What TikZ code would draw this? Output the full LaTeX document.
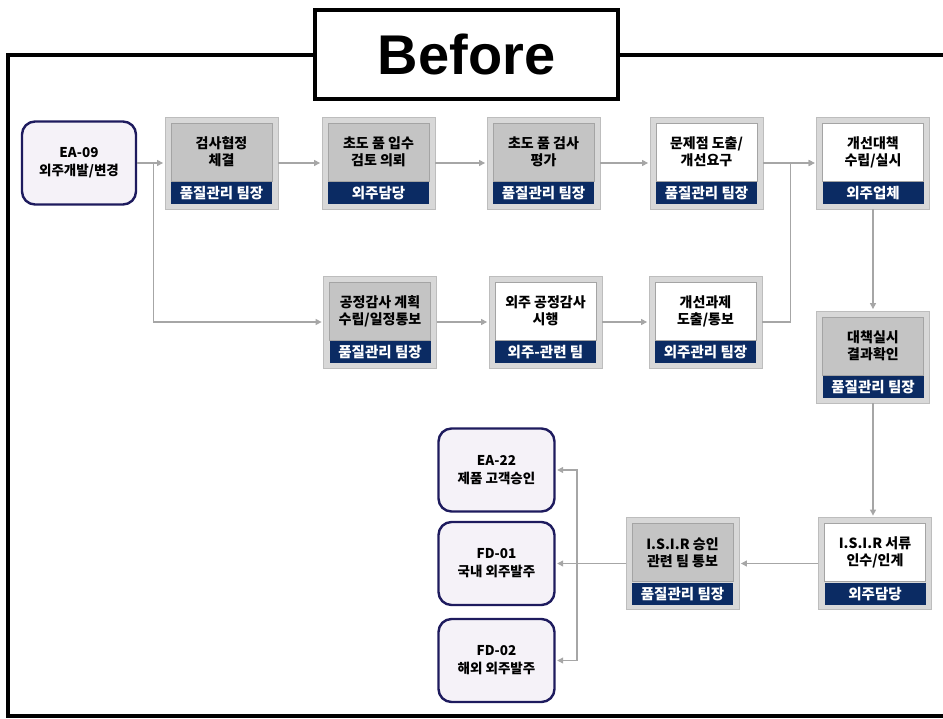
\documentclass[tikz,border=0pt]{standalone}
\usepackage{fontspec}
\setmainfont{Liberation Sans}
\newfontfamily\kr{Noto Sans CJK KR}
\usetikzlibrary{arrows.meta,calc}
\definecolor{navy}{HTML}{0B2B63}
\definecolor{frameg}{HTML}{D8D8D8}
\definecolor{frameb}{HTML}{BDBDBD}
\definecolor{innerg}{HTML}{C4C4C4}
\definecolor{innerb}{HTML}{A4A4A4}
\definecolor{lav}{HTML}{F5F2F8}
\definecolor{rbord}{HTML}{1E1B5E}
\definecolor{arrg}{HTML}{A6A6A6}
\tikzset{
  procouter/.style={draw=frameb, fill=frameg, line width=0.8pt, minimum width=113pt, minimum height=92pt, inner sep=0pt},
  procinner/.style={draw=innerb, line width=0.7pt, minimum width=101pt, minimum height=58pt, inner sep=0pt, align=center, font=\kr\bfseries\fontsize{14}{17}\selectfont},
  proclabel/.style={fill=navy, minimum width=101pt, minimum height=22pt, inner sep=0pt, text=white, font=\kr\bfseries\fontsize{14.5}{15}\selectfont},
  refbox/.style={draw=rbord, fill=lav, line width=2.4pt, rounded corners=13pt, minimum width=114pt, minimum height=83pt, align=center, font=\kr\bfseries\fontsize{13.5}{18}\selectfont},
  conn/.style={draw=arrg, line width=1.1pt, -{Triangle[length=6pt,width=6pt]}, shorten >=1.5pt},
}
\newcommand\proc[6]{%
  \node[procouter] (#1) at (#2,#3) {};
  \node[procinner, fill=#6, anchor=north] (#1-t) at ([yshift=-6pt]#1.north) {#4};
  \node[proclabel, anchor=south] (#1-l) at ([yshift=5pt]#1.south) {#5};
}
\begin{document}
\begin{tikzpicture}[x=1pt,y=-1pt]
\useasboundingbox (0,0) rectangle (943,719);
% frame
\draw[line width=4pt] (945,55) -- (8,55) -- (8,716) -- (945,716);
\node[draw, line width=4pt, fill=white, minimum width=303pt, minimum height=89pt, inner sep=0pt,
  font=\bfseries\fontsize{56}{60}\selectfont] (title) at (466.5,54.5) {Before};
% reference boxes
\node[refbox] (ea09) at (79,163) {EA-09\\외주개발/변경};
\node[refbox, minimum width=116pt] (ea22) at (496.5,470) {EA-22\\제품 고객승인};
\node[refbox, minimum width=116pt] (fd01) at (496.5,563.5) {FD-01\\국내 외주발주};
\node[refbox, minimum width=116pt] (fd02) at (496.5,660.5) {FD-02\\해외 외주발주};
% process boxes
\proc{b1}{221.5}{163}{검사협정\\체결}{품질관리 팀장}{innerg}
\proc{b2}{378.5}{163}{초도 품 입수\\검토 의뢰}{외주담당}{innerg}
\proc{b3}{543.5}{163}{초도 품 검사\\평가}{품질관리 팀장}{innerg}
\proc{b4}{706.5}{163}{문제점 도출/\\개선요구}{품질관리 팀장}{white}
\proc{b5}{873}{163}{개선대책\\수립/실시}{외주업체}{white}
\proc{c1}{380}{322}{공정감사 계획\\수립/일정통보}{품질관리 팀장}{innerg}
\proc{c2}{545.5}{322}{외주 공정감사\\시행}{외주-관련 팀}{white}
\proc{c3}{705.5}{322}{개선과제\\도출/통보}{외주관리 팀장}{white}
\proc{d1}{873}{357}{대책실시\\결과확인}{품질관리 팀장}{innerg}
\proc{d2}{875}{563.5}{I.S.I.R 서류\\인수/인계}{외주담당}{white}
\proc{d3}{682.5}{563.5}{I.S.I.R 승인\\관련 팀 통보}{품질관리 팀장}{innerg}
% connectors
\draw[conn] (ea09.east) -- (b1.west);
\draw[conn] (ea09.east) -- ++(16,0) |- (c1.west);
\draw[conn] (b1.east) -- (b2.west);
\draw[conn] (b2.east) -- (b3.west);
\draw[conn] (b3.east) -- (b4.west);
\draw[conn] (b4.east) -- (b5.west);
\draw[conn] (c1.east) -- (c2.west);
\draw[conn] (c2.east) -- (c3.west);
\draw[conn] (c3.east) -- ++(28,0) |- (b5.west);
\draw[conn] (b5.south) -- (d1.north);
\draw[conn] (d1.south) -- (d1.south |- d2.north);
\draw[conn] (d2.west) -- (d3.east);
\draw[conn] (d3.west) -- (fd01.east);
\coordinate (j) at (577,563.5);
\draw[conn] (j) |- (ea22.east);
\draw[conn] (j) |- (fd02.east);
\end{tikzpicture}
\end{document}
